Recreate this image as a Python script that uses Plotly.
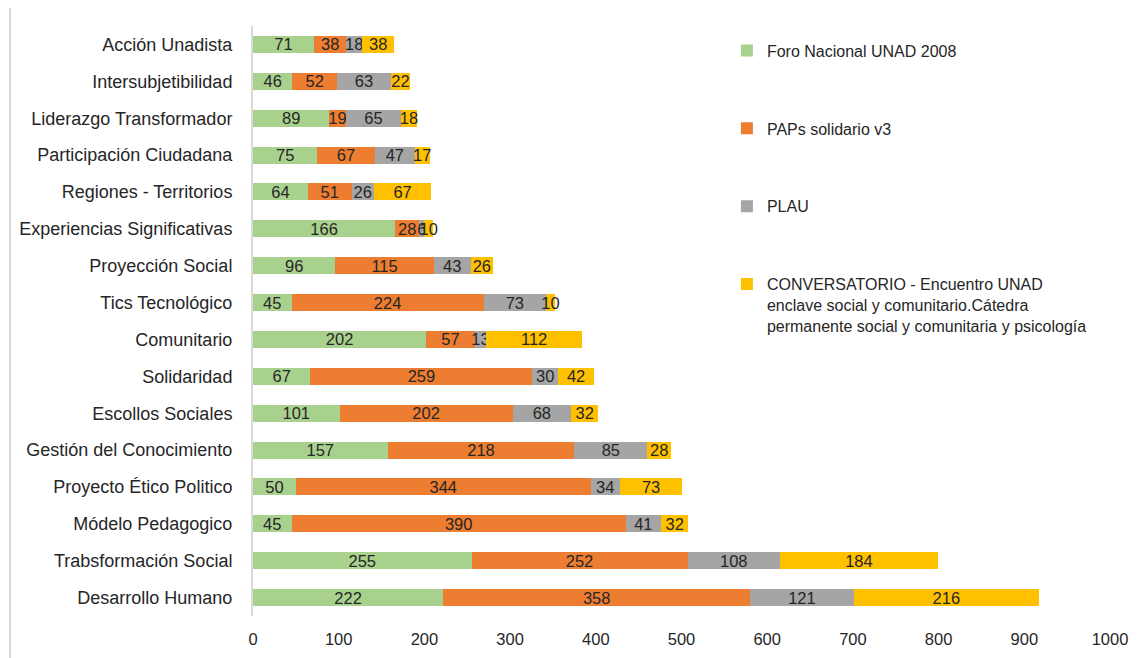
import plotly.graph_objects as go

categories = [
    "Desarrollo Humano", "Trabsformación Social", "Módelo Pedagogico",
    "Proyecto Ético Politico", "Gestión del Conocimiento", "Escollos Sociales",
    "Solidaridad", "Comunitario", "Tics Tecnológico", "Proyección Social",
    "Experiencias Significativas", "Regiones - Territorios",
    "Participación Ciudadana", "Liderazgo Transformador",
    "Intersubjetibilidad", "Acción Unadista",
]
foro = [222, 255, 45, 50, 157, 101, 67, 202, 45, 96, 166, 64, 75, 89, 46, 71]
paps = [358, 252, 390, 344, 218, 202, 259, 57, 224, 115, 28, 51, 67, 19, 52, 38]
plau = [121, 108, 41, 34, 85, 68, 30, 13, 73, 43, 6, 26, 47, 65, 63, 18]
conv = [216, 184, 32, 73, 28, 32, 42, 112, 10, 26, 10, 67, 17, 18, 22, 38]

series_names = [
    "Foro Nacional UNAD 2008",
    "PAPs solidario v3",
    "PLAU",
    "CONVERSATORIO - Encuentro UNAD<br>enclave social y comunitario.Cátedra<br>permanente social y comunitaria y psicología",
]
colors = ["#A9D18E", "#ED7D31", "#A5A5A5", "#FFC000"]

fig = go.Figure()
for i, (name, vals, col) in enumerate(zip(series_names, [foro, paps, plau, conv], colors)):
    fig.add_trace(go.Bar(
        y=categories, x=vals, orientation="h", name=name,
        marker=dict(color=col, line=dict(width=0)),
        text=vals, textposition="inside", insidetextanchor="middle",
        textangle=0, constraintext="none",
        textfont=dict(color="#262626", size=16.5, family="Liberation Sans, Arial"),
        legendgroup=f"g{i}",
    ))

fig.update_layout(
    barmode="stack",
    bargap=0.54,
    width=1137, height=658,
    margin=dict(l=245, r=35, t=17.5, b=49.5, autoexpand=False),
    paper_bgcolor="white", plot_bgcolor="white",
    font=dict(family="Liberation Sans, Arial", size=16, color="#262626"),
    uniformtext=dict(minsize=16, mode="show"),
    legend=dict(
        x=0.553, y=0.987, xanchor="left", yanchor="top",
        font=dict(size=16, color="#262626"),
        tracegroupgap=54, valign="top", bgcolor="rgba(0,0,0,0)",
        itemwidth=30,
    ),
    xaxis=dict(
        range=[0, 1000], dtick=100, showgrid=False, zeroline=False,
        showline=False, ticks="", tickfont=dict(size=16.5, color="#262626"),
        ticklabelstandoff=11, automargin=False,
    ),
    yaxis=dict(
        categoryorder="array", categoryarray=categories,
        showgrid=False, zeroline=False, showline=True, linecolor="#D9D9D9",
        linewidth=2, ticks="", ticklabelstandoff=15, automargin=False,
        tickfont=dict(size=18, color="#262626"),
    ),
    shapes=[dict(type="line", xref="paper", yref="paper",
                 x0=-0.2835, x1=-0.2835, y0=-0.1, y1=1.05,
                 line=dict(color="#D9D9D9", width=2))],
)

fig.write_html("out.html")
